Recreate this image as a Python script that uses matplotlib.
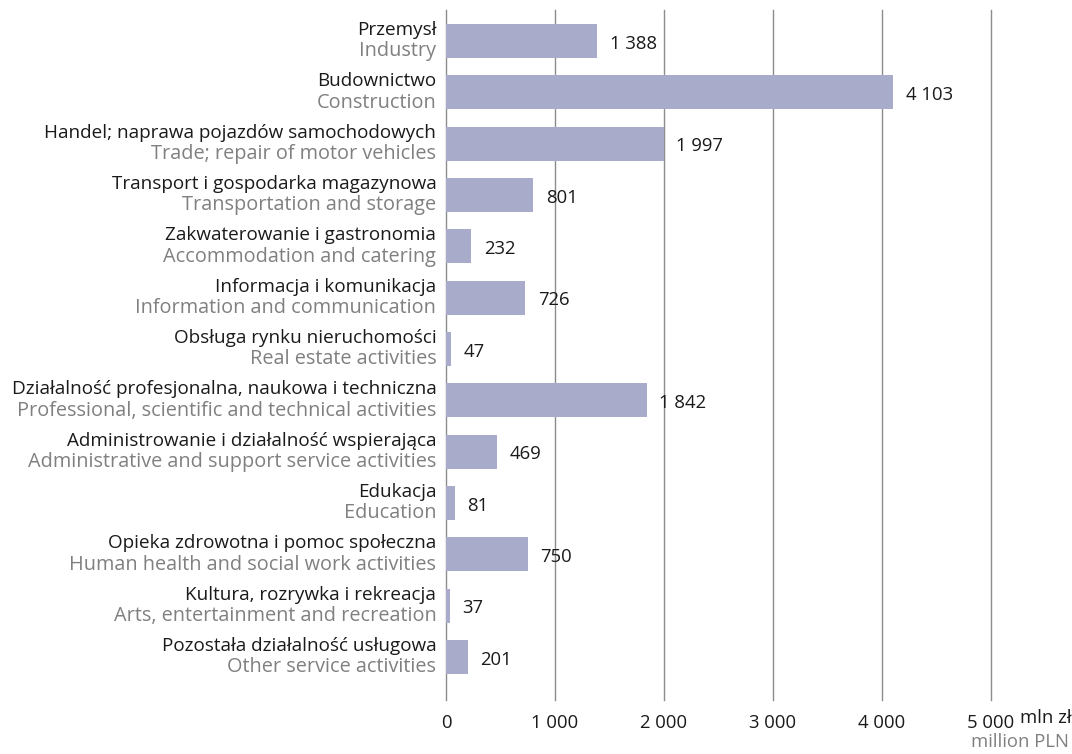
import matplotlib
matplotlib.use("Agg")
import matplotlib.pyplot as plt

# dane
names_pl = ["Przemysł", "Budownictwo", "Handel; naprawa pojazdów samochodowych",
            "Transport i gospodarka magazynowa", "Zakwaterowanie i gastronomia",
            "Informacja i komunikacja", "Obsługa rynku nieruchomości",
            "Działalność profesjonalna, naukowa i techniczna",
            "Administrowanie i działalność wspierająca", "Edukacja",
            "Opieka zdrowotna i pomoc społeczna", "Kultura, rozrywka i rekreacja",
            "Pozostała działalność usługowa"]
names_en = ["Industry", "Construction", "Trade; repair of motor vehicles",
            "Transportation and storage", "Accommodation and catering",
            "Information and communication", "Real estate activities",
            "Professional, scientific and technical activities",
            "Administrative and support service activities", "Education",
            "Human health and social work activities",
            "Arts, entertainment and recreation", "Other service activities"]
values = [1388, 4103, 1997, 801, 232, 726, 47, 1842, 469, 81, 750, 37, 201]
xticks = [0, 1000, 2000, 3000, 4000, 5000]

plt.rcParams['font.family'] = ['Open Sans', 'DejaVu Sans']
FS = 13.3     # liczby
FS_PL = 13.6  # nazwy po polsku
FS_EN = 14.3  # nazwy po angielsku
W, H = 1072, 754
fig = plt.figure(figsize=(W / 100, H / 100), dpi=100)
ax = fig.add_axes([446 / W, 1 - 700 / H, (991 - 446) / W, 690 / H])

bar_col = "#a8abca"
grid_col = "#8c8c8c"
y = list(range(len(values)))
ax.barh(y, values, height=0.66, color=bar_col, zorder=2)

ax.set_xlim(0, 5000)
ax.set_ylim(12 + 43 / 51.33, -31 / 51.33)
for t in xticks:
    ax.axvline(t, color=grid_col, lw=1, zorder=1, clip_on=False)

for s in ax.spines.values():
    s.set_visible(False)
ax.set_yticks([])
ax.set_xticks(xticks)
ax.set_xticklabels([f"{t:,}".replace(",", " ") for t in xticks])
ax.tick_params(axis='x', length=0, pad=10, labelsize=FS, colors="#1a1a1a")

def fmt(v):
    return f"{v:,}".replace(",", " ")

for i, v in enumerate(values):
    ax.annotate(fmt(v), (v, i), xytext=(9, -2), textcoords='offset points',
                va='center', ha='left', fontsize=FS, color="#1a1a1a")
    ax.annotate(names_pl[i], (0, i), xycoords=('axes fraction', 'data'),
                xytext=(-7, 8), textcoords='offset points', va='center',
                ha='right', fontsize=FS_PL, color="#1a1a1a")
    ax.annotate(names_en[i], (0, i), xycoords=('axes fraction', 'data'),
                xytext=(-7, -7.5), textcoords='offset points', va='center',
                ha='right', fontsize=FS_EN, color="#808080")

fig.text(1020 / W, 1 - 718 / H, "mln zł", ha='left', va='center',
         fontsize=FS, color="#1a1a1a")
fig.text(1069 / W, 1 - 742 / H, "million PLN", ha='right', va='center',
         fontsize=FS, color="#808080")

fig.savefig("out.png", dpi=100)
